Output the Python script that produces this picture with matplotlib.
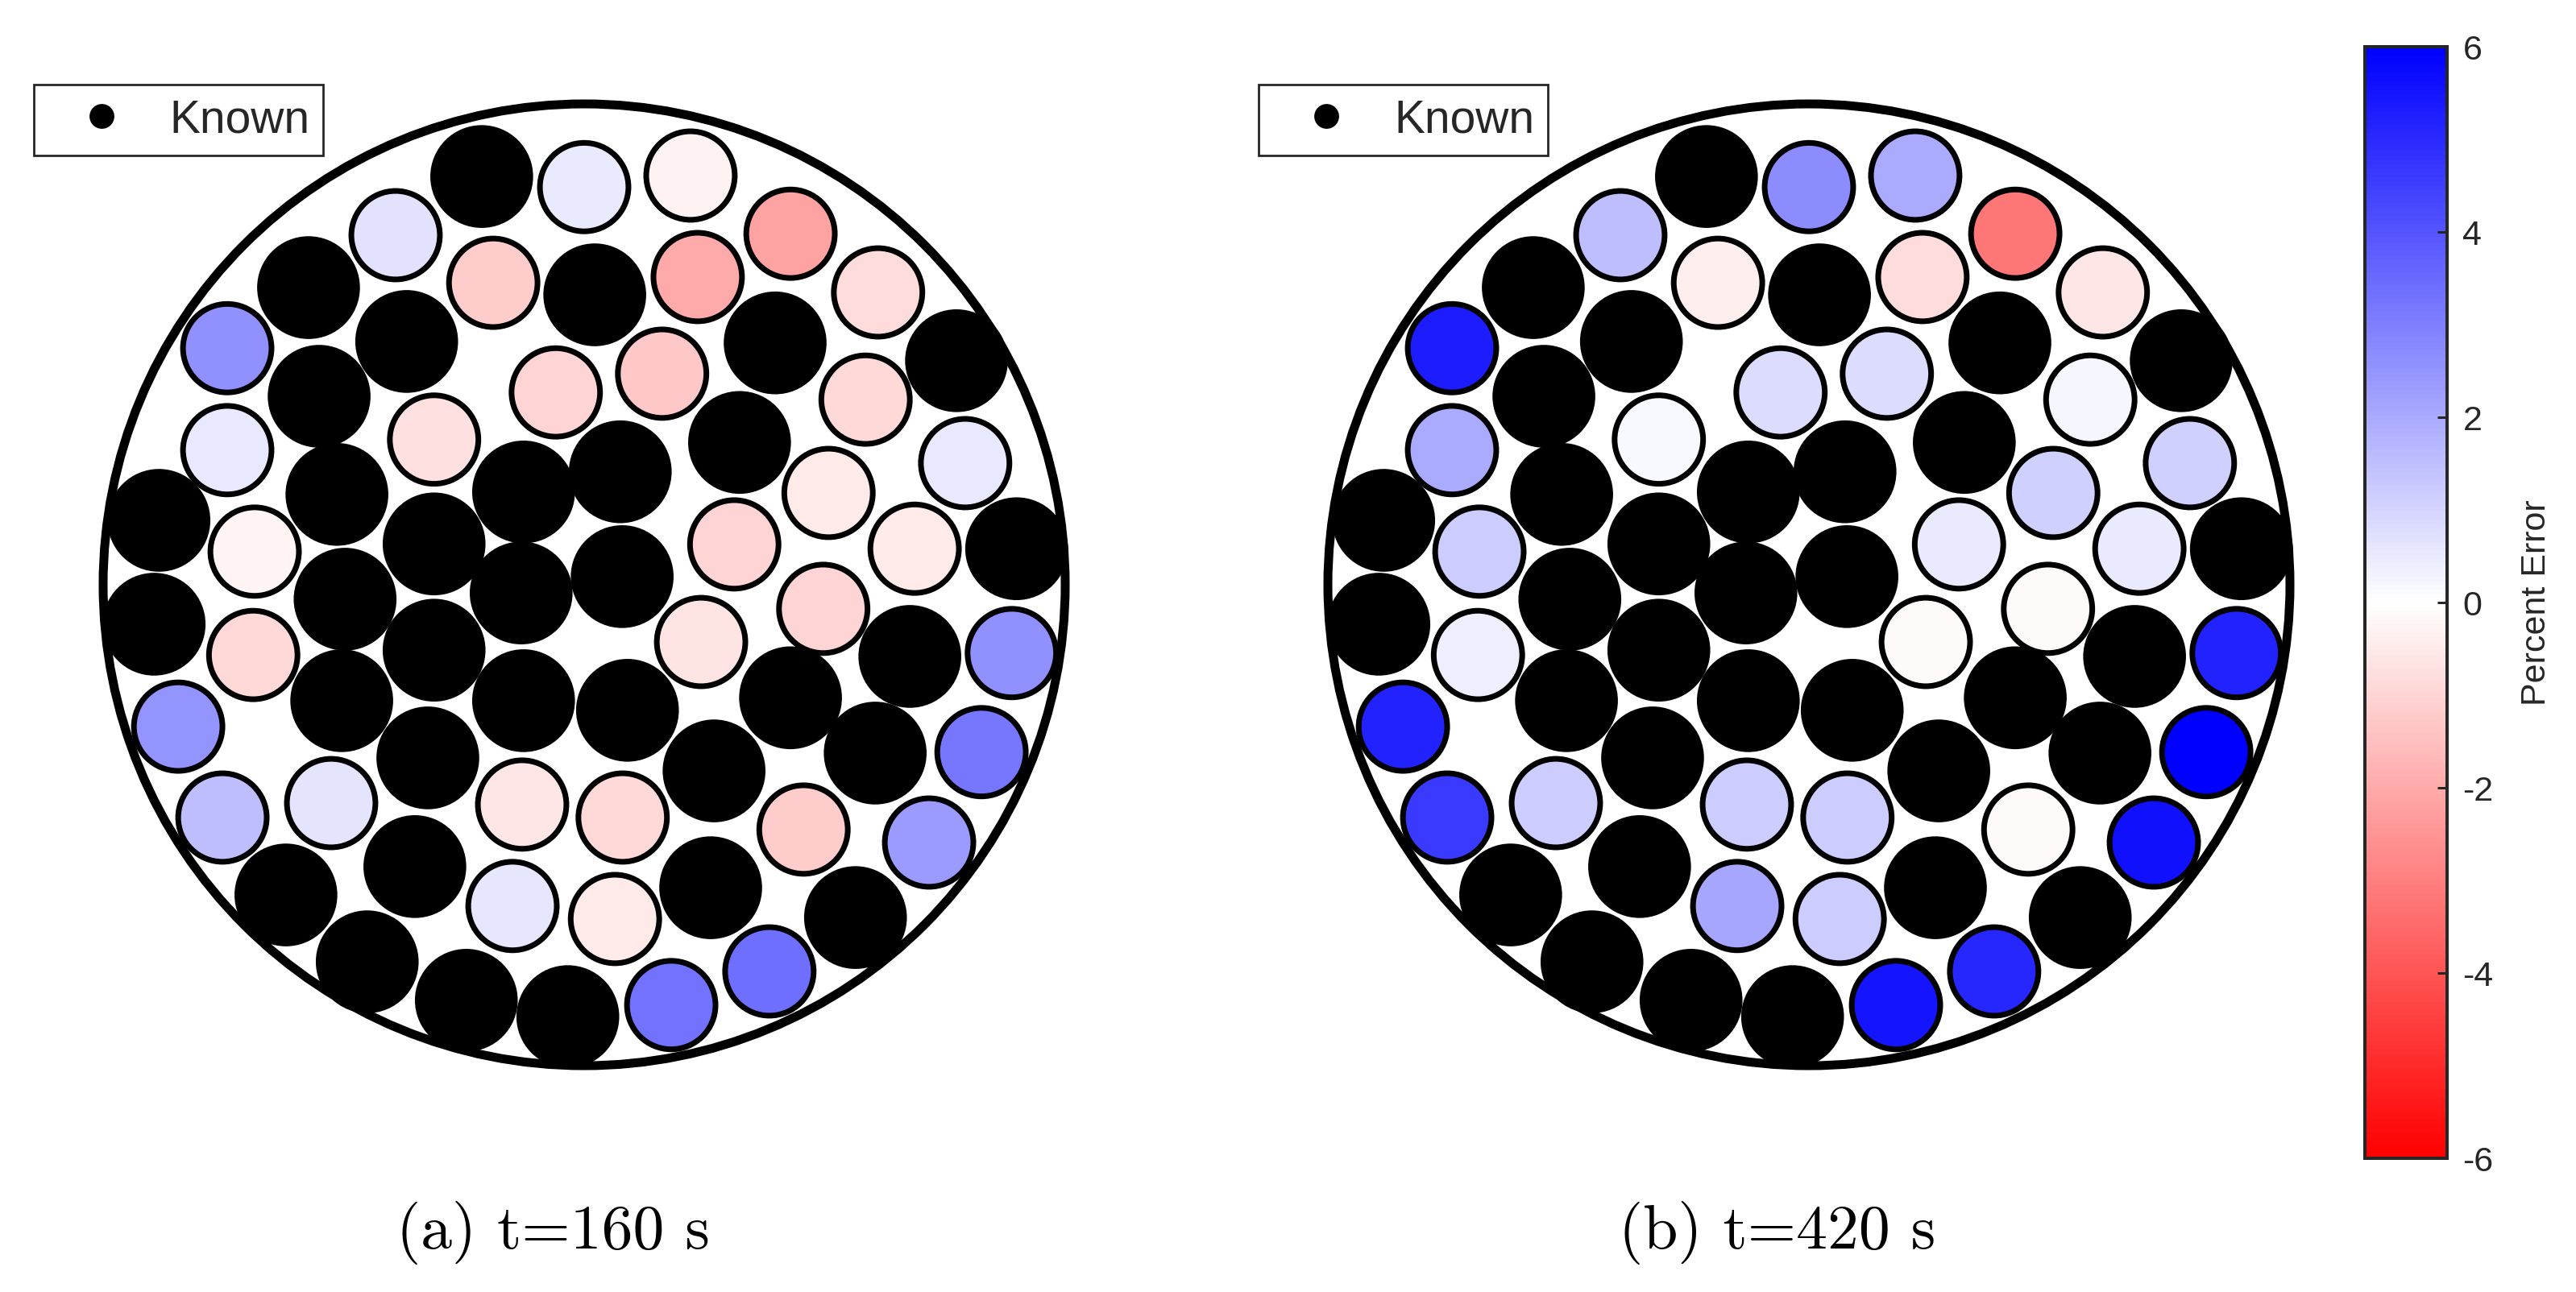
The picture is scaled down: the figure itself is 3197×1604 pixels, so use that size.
import numpy as np
import matplotlib.pyplot as plt
from matplotlib.patches import Circle
from matplotlib.collections import PatchCollection
from matplotlib.colors import LinearSegmentedColormap, Normalize
from matplotlib.lines import Line2D

# pebble centres, normalised to the vessel radius (R = 1)
known_x = [-0.213, 0.022, -0.573, -0.369, 0.397, 0.774, -0.551, 0.323, 0.075, -0.126,
           -0.514, -0.884, -0.312, 0.899, -0.497, -0.131, 0.079, -0.894, -0.312, 0.677,
           -0.504, -0.126, 0.090, 0.429, -0.325, 0.270, 0.605, -0.352, -0.620, 0.263,
           0.564, -0.451, -0.245, -0.034]
known_y = [0.849, 0.603, 0.618, 0.506, 0.503, 0.466, 0.392, 0.296, 0.235, 0.193,
           0.188, 0.134, 0.085, 0.075, -0.030, -0.017, 0.017, -0.082, -0.136, -0.149,
           -0.241, -0.241, -0.261, -0.235, -0.360, -0.387, -0.350, -0.586, -0.645, -0.630,
           -0.692, -0.784, -0.864, -0.898]

est_x = [0.000, 0.221, 0.429, -0.392, -0.189, 0.236, 0.611, -0.742, -0.059, 0.162,
         0.585, -0.312, -0.742, 0.792, 0.508, -0.685, 0.312, 0.687, 0.497, -0.688,
         0.243, 0.889, -0.844, 0.826, -0.526, -0.752, -0.129, 0.080, 0.456, 0.717,
         -0.149, 0.064, 0.181, 0.385]
est_y = [0.827, 0.851, 0.730, 0.727, 0.628, 0.640, 0.608, 0.492, 0.400, 0.439,
         0.385, 0.302, 0.280, 0.253, 0.191, 0.069, 0.084, 0.075, -0.050, -0.146,
         -0.119, -0.142, -0.295, -0.348, -0.454, -0.484, -0.457, -0.484, -0.509, -0.536,
         -0.668, -0.695, -0.874, -0.804]

# percent error of the estimated pebbles
err_160 = [0.5, -0.3, -2.2, 0.7, -1.2, -2.0, -0.8, 2.6, -1.0, -1.3,
           -0.9, -0.75, 0.55, 0.55, -0.5, -0.25, -1.0, -0.5, -1.0, -0.9,
           -0.65, 2.6, 2.5, 3.2, 0.65, 1.5, -0.6, -0.9, -1.2, 2.35,
           0.6, -0.5, 3.3, 3.4]
err_420 = [2.7, 2.0, -3.2, 1.5, -0.4, -0.8, -0.6, 5.3, 0.8, 0.8,
           0.2, 0.15, 2.0, 1.1, 1.1, 1.2, 0.5, 0.5, -0.1, 0.4,
           -0.1, 5.2, 5.2, 6.0, 1.2, 4.6, 1.2, 1.2, -0.1, 5.6,
           2.1, 1.2, 5.5, 5.1]

captions = ['(a) t=160 s', '(b) t=420 s']
cbar_ticks = [-6, -4, -2, 0, 2, 4, 6]

W, H = 3197, 1604
DPI = 200
fig = plt.figure(figsize=(W / DPI, H / DPI), dpi=DPI)

cmap = LinearSegmentedColormap.from_list('rwb', ['#ff0000', '#ffffff', '#0000ff'])
norm = Normalize(-6, 6)
px = 72 / DPI  # one pixel in points

side = 2 * 1.1 * 597
centres = [(725, 726), (725 + 1520, 726)]

for (cx, cy), err, cap in zip(centres, [err_160, err_420], captions):
    ax = fig.add_axes([(cx - side / 2) / W, (H - cy - side / 2) / H, side / W, side / H])
    ax.set_xlim(-1.1, 1.1)
    ax.set_ylim(-1.1, 1.1)
    ax.set_aspect('equal')
    ax.axis('off')

    ax.add_patch(Circle((0, 0), 1.0, fill=False, ec='black', lw=11 * px))

    black = [Circle((x, y), 0.101) for x, y in zip(known_x, known_y)]
    ax.add_collection(PatchCollection(black, facecolor='black', edgecolor='black',
                                      linewidth=7 * px))

    pebs = [Circle((x, y), 0.092) for x, y in zip(est_x, est_y)]
    pc = PatchCollection(pebs, cmap=cmap, norm=norm, edgecolor='black', linewidth=7 * px)
    pc.set_array(np.array(err))
    ax.add_collection(pc)

    h = Line2D([], [], marker='o', color='black', linestyle='none', markersize=28 * px)
    ax.legend(handles=[h], labels=['Known'], loc='upper left',
              bbox_to_anchor=((cx - 683) / W, 1 - 105 / H), bbox_transform=fig.transFigure,
              frameon=True, fancybox=False, edgecolor='#262626', framealpha=1,
              borderpad=0.3, handlelength=2.35, handletextpad=0.3, borderaxespad=0,
              labelcolor='#262626', prop=dict(family='Liberation Sans', size=20.5))

    fig.text((cx - 39) / W, 1 - 1550 / H, cap, ha='center', va='baseline',
             fontfamily='cmr10', fontsize=28)

cax = fig.add_axes([2935 / W, (H - 1438) / H, 102 / W, 1380 / H])
cb = fig.colorbar(pc, cax=cax, ticks=cbar_ticks)
cb.ax.set_yticklabels([str(t) for t in cbar_ticks])
cb.ax.tick_params(direction='in', length=12 * px, width=3 * px, pad=7,
                  labelsize=15.5, colors='#262626')
for lab in cb.ax.get_yticklabels():
    lab.set_fontfamily('Liberation Sans')
cb.outline.set_edgecolor('#262626')
cb.outline.set_linewidth(4 * px)
cb.set_label('Percent Error', fontsize=15.5, labelpad=12, color='#262626',
             fontfamily='Liberation Sans')

fig.savefig('out.png', dpi=DPI)
